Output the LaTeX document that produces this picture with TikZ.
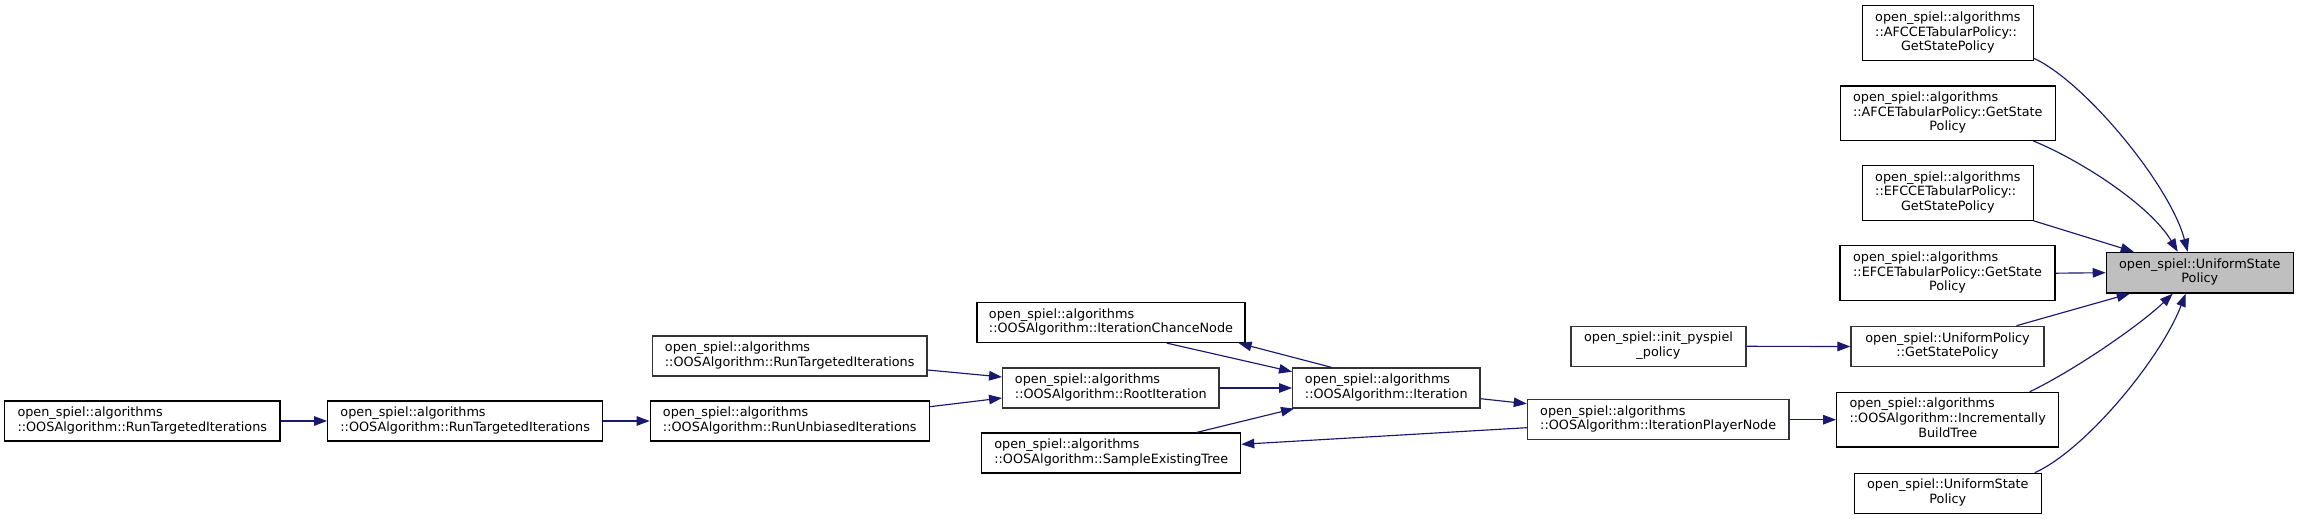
\documentclass[tikz,border=0pt]{standalone}
\usepackage{fontspec}
\setmainfont{DejaVu Sans}
\usetikzlibrary{arrows.meta,calc}
\definecolor{edgec}{HTML}{191970}
\definecolor{mainfill}{HTML}{BFBFBF}
\definecolor{bordgray}{HTML}{333333}
\newcommand{\lbl}[2]{\begin{tabular}{@{}l@{}}#1\\\multicolumn{1}{@{}c@{}}{#2}\end{tabular}}
\tikzset{
  box/.style={draw=black, line width=1.2pt, inner sep=0pt, fill=white,
    font=\fontsize{12.8}{14.7}\selectfont},
  gbox/.style={box, draw=bordgray},
  mainbox/.style={box, fill=mainfill},
  edge/.style={draw=edgec, line width=1.15pt, -{Triangle[length=13pt,width=9.5pt]}},
}
\begin{document}
\begin{tikzpicture}[x=1pt,y=-1pt]
\useasboundingbox[fill=white] (0,0) rectangle (2299,519);
% left chain
\node[box, minimum width=275.3pt, minimum height=40pt] (L1) at (142.3,421) {\lbl{open\_spiel::algorithms}{::OOSAlgorithm::RunTargetedIterations}};
\node[box, minimum width=275pt, minimum height=40pt] (L2) at (465.2,421) {\lbl{open\_spiel::algorithms}{::OOSAlgorithm::RunTargetedIterations}};
\node[box, minimum width=279pt, minimum height=40pt] (RU) at (789.8,421) {\lbl{open\_spiel::algorithms}{::OOSAlgorithm::RunUnbiasedIterations}};
\node[gbox, minimum width=274.7pt, minimum height=40pt] (RT) at (789.7,356) {\lbl{open\_spiel::algorithms}{::OOSAlgorithm::RunTargetedIterations}};
\node[gbox, minimum width=216.3pt, minimum height=40pt] (RI) at (1110.8,388) {\lbl{open\_spiel::algorithms}{::OOSAlgorithm::RootIteration}};
\node[box, minimum width=268pt, minimum height=40pt] (CN) at (1111,322.5) {\lbl{open\_spiel::algorithms}{::OOSAlgorithm::IterationChanceNode}};
\node[gbox, minimum width=187.3pt, minimum height=40pt] (IT) at (1386.3,388) {\lbl{open\_spiel::algorithms}{::OOSAlgorithm::Iteration}};
\node[box, minimum width=259pt, minimum height=40pt] (SE) at (1111.2,453) {\lbl{open\_spiel::algorithms}{::OOSAlgorithm::SampleExistingTree}};
\node[gbox, minimum width=261.7pt, minimum height=40pt] (PN) at (1658.2,419.7) {\lbl{open\_spiel::algorithms}{::OOSAlgorithm::IterationPlayerNode}};
\node[gbox, minimum width=175pt, minimum height=40pt] (IP) at (1658.5,346.3) {\lbl{open\_spiel::init\_pyspiel}{\_policy}};
% right column
\node[gbox, minimum width=193pt, minimum height=40.4pt] (UP) at (1947.5,346.5) {\lbl{open\_spiel::UniformPolicy}{::GetStatePolicy}};
\node[box, minimum width=222pt, minimum height=54.7pt] (IB) at (1947.7,419.7) {\lbl{open\_spiel::algorithms\\::OOSAlgorithm::Incrementally}{BuildTree}};
\node[box, minimum width=187pt, minimum height=40pt] (US) at (1947.8,493.3) {\lbl{open\_spiel::UniformState}{Policy}};
\node[box, minimum width=215pt, minimum height=55pt] (EFCE) at (1947.5,273.2) {\lbl{open\_spiel::algorithms\\::EFCETabularPolicy::GetState}{Policy}};
\node[box, minimum width=171pt, minimum height=54.6pt] (EFCCE) at (1947.8,193) {\lbl{open\_spiel::algorithms\\::EFCCETabularPolicy::}{GetStatePolicy}};
\node[box, minimum width=215pt, minimum height=54.3pt] (AFCE) at (1947.8,113.2) {\lbl{open\_spiel::algorithms\\::AFCETabularPolicy::GetState}{Policy}};
\node[box, minimum width=171pt, minimum height=55pt] (AFCCE) at (1947.8,33.2) {\lbl{open\_spiel::algorithms\\::AFCCETabularPolicy::}{GetStatePolicy}};
\node[mainbox, minimum width=187pt, minimum height=40.7pt] (MAIN) at (2199.8,272.7) {\lbl{open\_spiel::UniformState}{Policy}};
% edges
\draw[edge] (L1.east) -- (L2.west);
\draw[edge] (L2.east) -- (RU.west);
\draw[edge] ($(RT.east)+(0,14)$) -- ($(RI.west)+(0,-11)$);
\draw[edge] ($(RU.east)+(0,-14.3)$) -- ($(RI.west)+(0,10)$);
\draw[edge] (RI.east) -- (IT.west);
\draw[edge] ($(CN.south)+(55.7,0)$) -- ($(IT.west)+(0,-16.3)$);
\draw[edge] ($(IT.north)+(-54.6,0)$) -- ($(CN.south east)+(-7,0)$);
\draw[edge] ($(SE.north)+(85.5,0)$) -- ($(IT.south west)+(2,0)$);
\draw[edge] ($(IT.east)+(0,10.7)$) -- ($(PN.west)+(0,-16)$);
\draw[edge] ($(PN.west)+(0,8)$) -- ($(SE.east)+(0,-8.7)$);
\draw[edge] (PN.east) -- (IB.west);
\draw[edge] (IP.east) -- (UP.west);
\draw[edge] (EFCE.east) -- (MAIN.west);
\draw[edge] (EFCCE.south east) -- ($(MAIN.north west)+(28,0)$);
\draw[edge] ($(AFCE.south)+(85.5,0)$) .. controls (2080,160) and (2150,205) .. ($(MAIN.north west)+(72,0)$);
\draw[edge] ($(AFCCE.south east)+(0,-3)$) .. controls (2085,82) and (2170,185) .. ($(MAIN.north west)+(82,0)$);
\draw[edge] ($(UP.north)+(69,0)$) -- ($(MAIN.south west)+(24,0)$);
\draw[edge] ($(IB.north)+(82,0)$) .. controls (2075,370) and (2140,325) .. ($(MAIN.south west)+(67,0)$);
\draw[edge] ($(US.north)+(87,0)$) .. controls (2085,450) and (2160,360) .. ($(MAIN.south west)+(80,0)$);
\end{tikzpicture}
\end{document}
